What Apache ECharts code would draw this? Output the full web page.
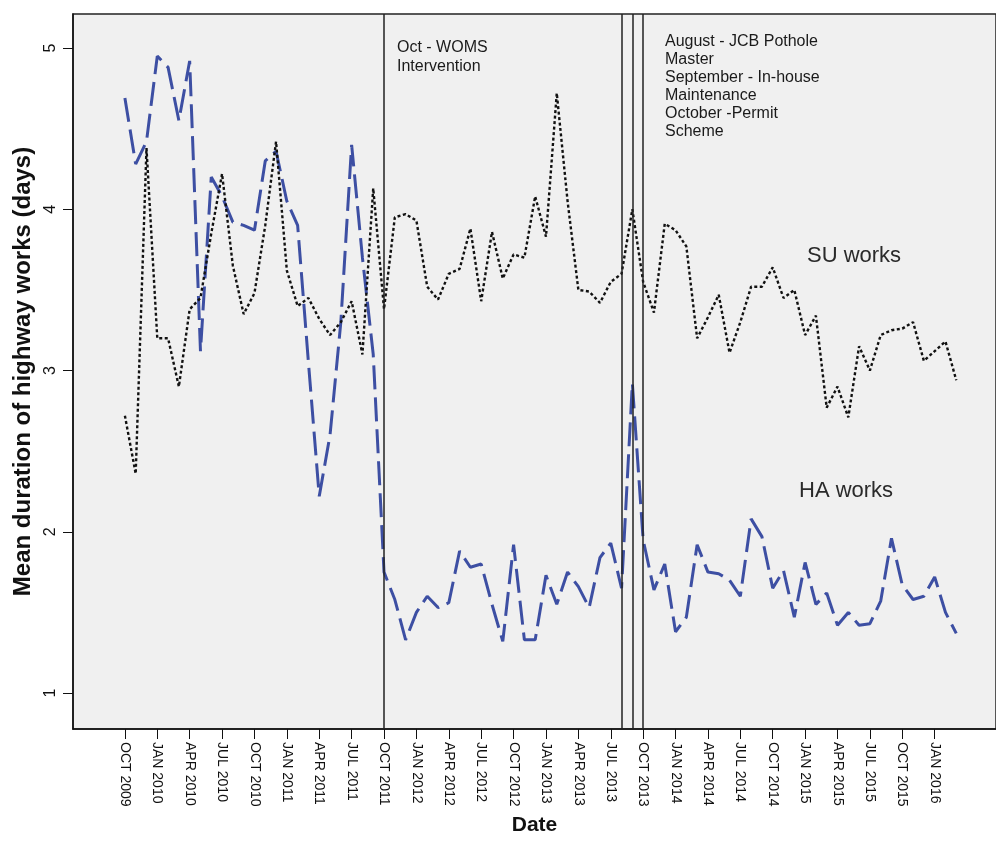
<!DOCTYPE html>
<html>
<head>
<meta charset="utf-8">
<script src="https://cdn.jsdelivr.net/npm/echarts@6/dist/echarts.min.js"></script>
<style>
html,body{margin:0;padding:0;background:#fff;}
#chart{width:996px;height:856px;}
</style>
</head>
<body>
<div id="chart"></div>
<script>
// Monthly observations, Oct 2009 .. Mar 2016
const months = [
 'Oct 2009','Nov 2009','Dec 2009','Jan 2010','Feb 2010','Mar 2010','Apr 2010','May 2010','Jun 2010','Jul 2010','Aug 2010','Sep 2010',
 'Oct 2010','Nov 2010','Dec 2010','Jan 2011','Feb 2011','Mar 2011','Apr 2011','May 2011','Jun 2011','Jul 2011','Aug 2011','Sep 2011',
 'Oct 2011','Nov 2011','Dec 2011','Jan 2012','Feb 2012','Mar 2012','Apr 2012','May 2012','Jun 2012','Jul 2012','Aug 2012','Sep 2012',
 'Oct 2012','Nov 2012','Dec 2012','Jan 2013','Feb 2013','Mar 2013','Apr 2013','May 2013','Jun 2013','Jul 2013','Aug 2013','Sep 2013',
 'Oct 2013','Nov 2013','Dec 2013','Jan 2014','Feb 2014','Mar 2014','Apr 2014','May 2014','Jun 2014','Jul 2014','Aug 2014','Sep 2014',
 'Oct 2014','Nov 2014','Dec 2014','Jan 2015','Feb 2015','Mar 2015','Apr 2015','May 2015','Jun 2015','Jul 2015','Aug 2015','Sep 2015',
 'Oct 2015','Nov 2015','Dec 2015','Jan 2016','Feb 2016','Mar 2016'
];

// SU works (black dotted)
const suWorks = [
 2.72,2.36,4.38,3.20,3.20,2.90,3.38,3.45,3.85,4.22,3.65,3.35,
 3.48,3.90,4.42,3.62,3.40,3.45,3.32,3.22,3.30,3.43,3.10,4.13,
 3.38,3.95,3.97,3.93,3.52,3.44,3.60,3.63,3.88,3.43,3.86,3.57,
 3.72,3.70,4.08,3.83,4.72,4.05,3.50,3.49,3.42,3.55,3.60,4.00,
 3.55,3.36,3.91,3.87,3.77,3.20,3.33,3.47,3.11,3.30,3.52,3.52,
 3.64,3.45,3.50,3.22,3.34,2.77,2.90,2.71,3.15,3.00,3.22,3.25,
 3.26,3.30,3.06,3.12,3.18,2.94
];

// HA works (blue dashed)
const haWorks = [
 4.69,4.28,4.42,4.95,4.88,4.55,4.92,3.12,4.20,4.08,3.92,3.90,
 3.87,4.30,4.36,4.05,3.90,3.05,2.22,2.60,3.30,4.40,3.70,3.10,
 1.75,1.58,1.33,1.50,1.60,1.53,1.56,1.88,1.78,1.80,1.55,1.32,
 1.92,1.33,1.33,1.73,1.55,1.75,1.66,1.53,1.84,1.93,1.65,2.92,
 1.95,1.64,1.80,1.38,1.47,1.92,1.75,1.74,1.70,1.60,2.08,1.97,
 1.65,1.76,1.47,1.81,1.55,1.62,1.42,1.50,1.42,1.43,1.57,1.96,
 1.67,1.58,1.60,1.72,1.50,1.37
];

// Tick labels every 3 months starting Oct 2009
const tickLabels = [
 'OCT 2009','JAN 2010','APR 2010','JUL 2010','OCT 2010','JAN 2011','APR 2011','JUL 2011',
 'OCT 2011','JAN 2012','APR 2012','JUL 2012','OCT 2012','JAN 2013','APR 2013','JUL 2013',
 'OCT 2013','JAN 2014','APR 2014','JUL 2014','OCT 2014','JAN 2015','APR 2015','JUL 2015',
 'OCT 2015','JAN 2016'
];
const yTicks = [1, 2, 3, 4, 5];

// Intervention months (vertical reference lines)
const interventions = ['Oct 2011', 'Aug 2013', 'Sep 2013', 'Oct 2013'];

const FONT = 'Liberation Sans, Arial, sans-serif';
const tickIdx = tickLabels.map((_, i) => i * 3);

const chart = echarts.init(document.getElementById('chart'), null, {renderer: 'canvas'});
chart.setOption({
  animation: false,
  backgroundColor: '#ffffff',
  grid: {
    left: 73, top: 14, width: 925, height: 715,
    show: true, backgroundColor: '#f0f0f0', borderColor: '#222', borderWidth: 1.5
  },
  xAxis: {
    type: 'value',
    min: -4.806, max: 80.68,
    name: 'Date', nameLocation: 'middle', nameGap: 78,
    nameTextStyle: {fontFamily: FONT, fontSize: 21, fontWeight: 'bold', color: '#111'},
    axisLine: {show: true, onZero: false, lineStyle: {color: '#111', width: 1.5}},
    axisTick: {show: true, customValues: tickIdx, length: 10, lineStyle: {color: '#111', width: 1}},
    axisLabel: {
      customValues: tickIdx, rotate: -90, margin: 13,
      fontFamily: FONT, fontSize: 14, color: '#111',
      formatter: v => tickLabels[Math.round(v / 3)]
    },
    splitLine: {show: false}
  },
  yAxis: {
    type: 'value',
    min: 0.777, max: 5.211,
    name: 'Mean duration of highway works (days)', nameLocation: 'middle', nameGap: 32, nameRotate: 90,
    nameTextStyle: {fontFamily: FONT, fontSize: 24, fontWeight: 'bold', color: '#111'},
    axisLine: {show: true, onZero: false, lineStyle: {color: '#111', width: 1.5}},
    axisTick: {show: true, customValues: yTicks, length: 10, lineStyle: {color: '#111', width: 1}},
    axisLabel: {
      customValues: yTicks, rotate: 90, margin: 14,
      fontFamily: FONT, fontSize: 16, color: '#111'
    },
    splitLine: {show: false}
  },
  series: [
    {
      name: 'SU works', type: 'line', symbol: 'none',
      data: suWorks.map((v, i) => [i, v]),
      lineStyle: {color: '#111', width: 2.4, type: [3, 2.5]},
      z: 3,
      markLine: {
        silent: true, symbol: 'none', label: {show: false},
        lineStyle: {color: '#222', width: 1.5, type: 'solid'},
        data: interventions.map(m => ({xAxis: months.indexOf(m)}))
      }
    },
    {
      name: 'HA works', type: 'line', symbol: 'none',
      data: haWorks.map((v, i) => [i, v]),
      lineStyle: {color: '#3d4fa3', width: 3, type: [24, 8]},
      z: 2
    }
  ],
  graphic: [
    {type: 'text', left: 397, top: 38, z: 10, style: {
      text: 'Oct - WOMS\nIntervention', fontFamily: FONT, fontSize: 16, lineHeight: 19, fill: '#1a1a1a'}},
    {type: 'text', left: 665, top: 33, z: 10, style: {
      text: 'August - JCB Pothole\nMaster\nSeptember - In-house\nMaintenance\nOctober -Permit\nScheme',
      fontFamily: FONT, fontSize: 16, lineHeight: 18, fill: '#1a1a1a'}},
    {type: 'text', left: 807, top: 245, z: 10, style: {
      text: 'SU works', fontFamily: FONT, fontSize: 22, fill: '#2a2a2a'}},
    {type: 'text', left: 799, top: 480, z: 10, style: {
      text: 'HA works', fontFamily: FONT, fontSize: 22, fill: '#2a2a2a'}}
  ]
});
</script>
</body>
</html>
